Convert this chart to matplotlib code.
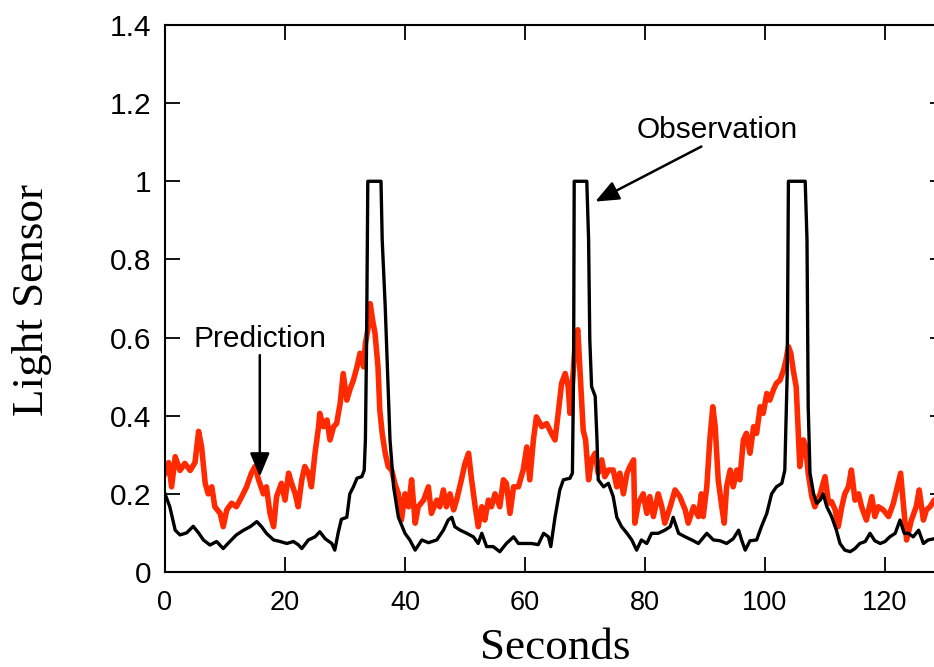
import matplotlib
matplotlib.use('Agg')
import matplotlib.pyplot as plt

# observation (black) - light sensor reading
obs_t = [0, 0.8, 1.7, 2.5, 3.6, 4.7, 5.6, 6.4, 7.5, 8.6, 9.7, 10.8, 11.9, 13.1, 14.2,
         15.3, 16.1, 16.9, 18.1, 19.2, 20.3, 21.4, 22.2, 22.8, 23.9, 25.0, 25.8, 26.7,
         27.8, 28.3, 28.9, 29.4, 30.3, 30.8, 31.4, 32.0, 32.8, 33.2, 33.4, 33.6, 33.8,
         36.0, 36.2, 36.7, 37.1, 37.5, 38.1, 38.9, 40.0, 40.8, 41.7, 42.8, 43.9, 45.3,
         46.4, 47.2, 47.8, 48.3, 49.2, 50.3, 51.4, 52.2, 52.8, 53.6, 54.7, 55.8, 56.9,
         58.1, 58.9, 60.0, 61.1, 62.2, 63.1, 63.9, 64.3, 65.0, 65.8, 66.4, 67.5, 67.9,
         68.1, 68.2, 70.3, 70.6, 70.8, 71.1, 71.7, 72.0, 72.2, 73.1, 73.9, 74.7, 75.3,
         76.1, 77.0, 77.8, 78.6, 79.4, 80.3, 81.1, 82.2, 83.3, 84.2, 84.7, 85.6, 86.7,
         87.8, 88.9, 90.3, 91.4, 92.5, 93.6, 94.7, 95.6, 96.1, 96.7, 97.5, 98.6, 99.4,
         100.3, 101.1, 101.9, 102.8, 103.3, 103.7, 103.9, 106.7, 107.0, 107.2, 107.5,
         108.1, 108.6, 109.2, 109.7, 110.3, 111.1, 111.9, 112.5, 113.3, 114.2, 115.0,
         115.8, 116.7, 117.5, 118.3, 119.2, 120.0, 120.8, 121.7, 122.5, 123.2, 123.9,
         124.7, 125.6, 126.4, 127.2, 128.2, 129.0]
obs_v = [0.20, 0.167, 0.107, 0.095, 0.10, 0.117, 0.10, 0.082, 0.069, 0.078, 0.06, 0.078,
         0.095, 0.107, 0.116, 0.129, 0.116, 0.099, 0.082, 0.078, 0.073, 0.078, 0.07, 0.06,
         0.082, 0.09, 0.103, 0.085, 0.073, 0.056, 0.103, 0.135, 0.14, 0.2, 0.218, 0.24,
         0.244, 0.26, 0.338, 0.594, 1.0, 1.0, 0.85, 0.68, 0.508, 0.338, 0.218, 0.14, 0.099,
         0.082, 0.056, 0.082, 0.075, 0.082, 0.107, 0.133, 0.14, 0.116, 0.107, 0.099, 0.09,
         0.073, 0.099, 0.065, 0.065, 0.052, 0.073, 0.09, 0.073, 0.073, 0.073, 0.07, 0.099,
         0.09, 0.065, 0.14, 0.21, 0.236, 0.24, 0.253, 0.508, 1.0, 1.0, 0.85, 0.594, 0.474,
         0.45, 0.338, 0.236, 0.218, 0.227, 0.193, 0.14, 0.116, 0.099, 0.082, 0.056, 0.082,
         0.073, 0.099, 0.099, 0.107, 0.116, 0.14, 0.099, 0.09, 0.082, 0.073, 0.099, 0.082,
         0.08, 0.073, 0.085, 0.107, 0.082, 0.056, 0.08, 0.082, 0.116, 0.15, 0.2, 0.218,
         0.227, 0.26, 0.508, 1.0, 1.0, 0.85, 0.423, 0.253, 0.2, 0.176, 0.184, 0.2, 0.167,
         0.142, 0.107, 0.073, 0.056, 0.052, 0.06, 0.073, 0.078, 0.099, 0.08, 0.073, 0.078,
         0.09, 0.099, 0.133, 0.099, 0.099, 0.09, 0.107, 0.073, 0.082, 0.085, 0.09]

# prediction (red)
pred_t = [0, 0.6, 1.1, 1.7, 2.5, 3.3, 4.2, 5.0, 5.6, 6.1, 6.7, 7.2, 7.8, 8.3, 9.2, 9.7,
          10.3, 11.1, 11.9, 12.8, 13.6, 14.4, 15.0, 15.6, 16.4, 16.9, 17.5, 18.1, 18.6,
          19.4, 20.0, 20.6, 21.1, 21.7, 22.2, 22.8, 23.3, 23.9, 24.4, 25.0, 25.6, 25.8,
          26.4, 27.0, 27.5, 28.1, 28.6, 29.2, 29.7, 30.3, 30.8, 31.4, 32.0, 32.5, 33.1,
          33.4, 33.9, 34.2, 34.6, 35.0, 35.5, 35.8, 36.2, 36.7, 37.2, 37.8, 38.3, 38.9,
          39.4, 40.0, 40.6, 41.1, 41.7, 42.2, 43.1, 43.9, 44.4, 45.3, 45.8, 46.4, 46.9,
          47.5, 48.1, 48.6, 49.4, 50.0, 50.6, 51.1, 51.7, 52.2, 52.8, 53.3, 53.9, 54.4,
          55.0, 55.8, 56.4, 56.9, 57.5, 58.1, 58.9, 59.7, 60.3, 60.8, 61.4, 61.9, 62.8,
          63.6, 64.4, 65.0, 65.6, 66.1, 66.7, 67.2, 67.5, 68.1, 68.4, 68.8, 69.2, 69.7,
          70.1, 70.6, 71.1, 71.7, 72.2, 72.8, 73.3, 73.9, 74.7, 75.3, 75.8, 76.4, 77.0,
          77.5, 78.1, 78.3, 78.9, 79.7, 80.3, 80.8, 81.4, 82.2, 82.8, 83.3, 84.2, 85.0,
          85.8, 86.7, 87.2, 88.1, 88.9, 89.4, 89.7, 90.3, 90.8, 91.3, 91.7, 92.2, 92.8,
          93.2, 93.6, 94.2, 94.7, 95.3, 95.8, 96.4, 96.9, 97.5, 98.1, 98.6, 99.2, 99.7,
          100.3, 100.8, 101.4, 101.9, 102.5, 103.1, 103.5, 103.9, 104.3, 104.7, 105.2,
          105.6, 105.8, 106.4, 106.8, 107.2, 107.8, 108.3, 109.2, 110.0, 110.6, 111.1,
          111.7, 112.2, 112.8, 113.3, 113.9, 114.4, 115.0, 115.6, 116.1, 116.9, 117.8,
          118.3, 118.9, 119.7, 120.6, 121.4, 122.2, 122.6, 123.1, 123.6, 124.4, 125.2,
          125.7, 126.4, 126.9, 127.5, 128.2, 129.0]
pred_v = [0.253, 0.28, 0.218, 0.295, 0.26, 0.278, 0.26, 0.28, 0.36, 0.32, 0.227, 0.2,
          0.218, 0.167, 0.15, 0.116, 0.159, 0.176, 0.167, 0.193, 0.218, 0.253, 0.27, 0.236,
          0.2, 0.218, 0.15, 0.116, 0.193, 0.227, 0.184, 0.253, 0.227, 0.2, 0.167, 0.236,
          0.27, 0.253, 0.218, 0.304, 0.372, 0.406, 0.372, 0.389, 0.338, 0.372, 0.38, 0.432,
          0.508, 0.44, 0.466, 0.491, 0.525, 0.56, 0.525, 0.585, 0.628, 0.687, 0.645, 0.611,
          0.525, 0.415, 0.355, 0.304, 0.27, 0.26, 0.227, 0.2, 0.133, 0.2, 0.167, 0.236,
          0.125, 0.167, 0.184, 0.218, 0.15, 0.184, 0.167, 0.21, 0.167, 0.2, 0.159, 0.184,
          0.236, 0.278, 0.304, 0.236, 0.167, 0.116, 0.167, 0.133, 0.184, 0.167, 0.2, 0.167,
          0.236, 0.227, 0.15, 0.218, 0.218, 0.261, 0.32, 0.236, 0.338, 0.397, 0.372, 0.38,
          0.355, 0.338, 0.415, 0.483, 0.508, 0.474, 0.406, 0.525, 0.594, 0.62, 0.508, 0.363,
          0.338, 0.236, 0.287, 0.304, 0.253, 0.287, 0.244, 0.261, 0.261, 0.218, 0.253, 0.2,
          0.253, 0.27, 0.287, 0.125, 0.176, 0.2, 0.15, 0.193, 0.142, 0.2, 0.167, 0.125,
          0.167, 0.21, 0.193, 0.159, 0.125, 0.167, 0.142, 0.2, 0.142, 0.218, 0.338, 0.423,
          0.372, 0.236, 0.167, 0.125, 0.218, 0.261, 0.218, 0.261, 0.236, 0.338, 0.355, 0.304,
          0.372, 0.355, 0.423, 0.406, 0.457, 0.44, 0.466, 0.483, 0.491, 0.517, 0.543, 0.577,
          0.56, 0.517, 0.474, 0.338, 0.27, 0.338, 0.32, 0.253, 0.193, 0.167, 0.2, 0.244,
          0.176, 0.18, 0.159, 0.116, 0.167, 0.2, 0.218, 0.261, 0.184, 0.2, 0.167, 0.133,
          0.193, 0.142, 0.167, 0.159, 0.142, 0.176, 0.227, 0.253, 0.167, 0.082, 0.133, 0.167,
          0.21, 0.133, 0.159, 0.167, 0.184, 0.15]

x_ticks = [0, 20, 40, 60, 80, 100, 120]
y_ticks = [0, 0.2, 0.4, 0.6, 0.8, 1.0, 1.2, 1.4]

plt.rcParams['font.family'] = ['Liberation Sans', 'DejaVu Sans']

fig = plt.figure(figsize=(9.34, 6.67), dpi=100)
# the axes runs a bit past the right edge of the picture, as in the original
ax = fig.add_axes([165 / 934, 1 - 572 / 667, 780 / 934, 547 / 667])

ax.plot(pred_t, pred_v, color='#ff2a00', lw=4.0)
ax.plot(obs_t, obs_v, color='black', lw=2.4)

ax.set_xlim(0, 130)
ax.set_ylim(0, 1.4)
ax.set_xticks(x_ticks)
ax.set_yticks(y_ticks)
ax.set_yticklabels([f'{v:g}' for v in y_ticks], fontsize=21.5)
ax.set_xticklabels([str(v) for v in x_ticks], fontsize=19.5)
ax.tick_params(direction='in', length=10.8, width=1.3, top=True, right=True)
ax.tick_params(axis='y', pad=10)
ax.tick_params(axis='x', pad=13)
for s in ax.spines.values():
    s.set_linewidth(1.5)

# labels
ax.text(15.75, 0.576, 'Prediction', fontsize=21.5, ha='center', va='baseline')
ax.annotate('', xy=(15.8, 0.244), xytext=(15.8, 0.555),
            arrowprops=dict(arrowstyle='-|>,head_length=0.72,head_width=0.3',
                            mutation_scale=20, lw=1.8, color='black',
                            shrinkA=0, shrinkB=0))
ax.text(92.1, 1.110, 'Observation', fontsize=21.5, ha='center', va='baseline')
ax.annotate('', xy=(71.7, 0.948), xytext=(89.4, 1.089),
            arrowprops=dict(arrowstyle='-|>,head_length=0.72,head_width=0.3',
                            mutation_scale=20, lw=1.8, color='black',
                            shrinkA=0, shrinkB=0))

fig.text(0.5942, 0.012, 'Seconds', family='Liberation Serif', fontsize=32.5,
         ha='center', va='baseline')
fig.text(32 / 934, 1 - 300 / 667, 'Light Sensor', family='Liberation Serif',
         fontsize=32.5, rotation=90, ha='center', va='center')

fig.savefig('out.png', dpi=100)
